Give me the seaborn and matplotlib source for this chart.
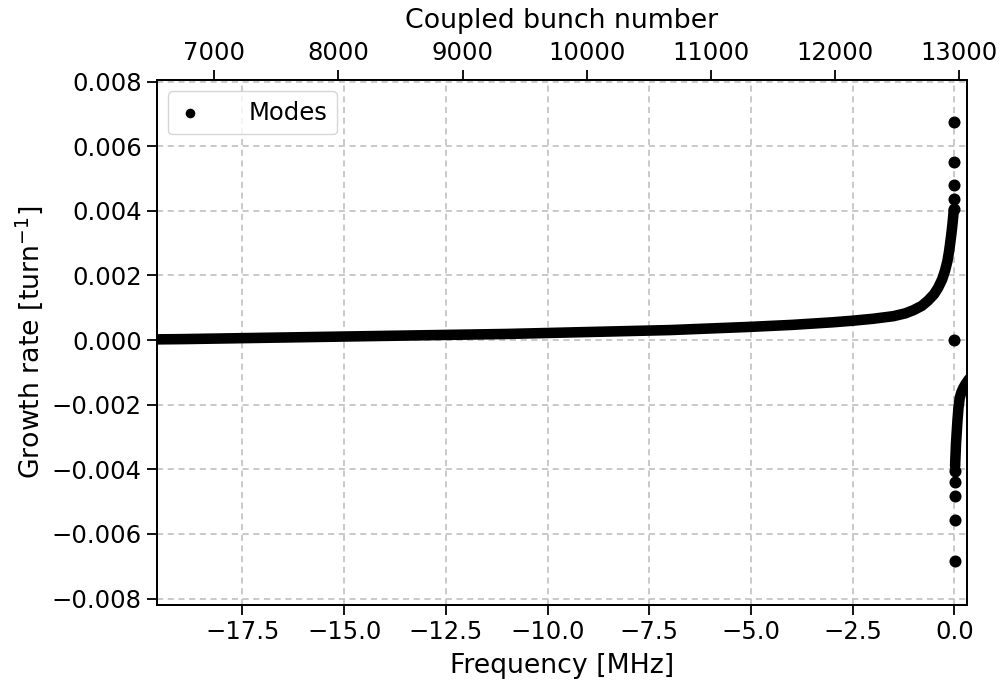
import numpy as np
import pandas as pd
import matplotlib
matplotlib.use("Agg")
import matplotlib.pyplot as plt
import seaborn as sns

# =========================
# DATA
# =========================
# left branch, dense modes below 0 MHz
f_left = [-19.8, -19.0, -18.0, -17.0, -16.0, -15.0, -14.0, -13.0, -12.0, -11.0,
          -10.0, -9.0, -8.0, -7.0, -6.0, -5.0, -4.0, -3.0, -2.5, -2.0,
          -1.5, -1.2, -1.0, -0.8, -0.65, -0.5, -0.4, -0.3, -0.23, -0.17,
          -0.13, -0.1, -0.075, -0.055, -0.04, -0.03, -0.022, -0.018]
g_left = [0.00002, 0.00003, 0.00005, 0.00007, 0.00009, 0.00011, 0.00013, 0.00015, 0.00017, 0.00019,
          0.00022, 0.00025, 0.00028, 0.00031, 0.00036, 0.00041, 0.00047, 0.00055, 0.00060, 0.00066,
          0.00074, 0.00083, 0.00093, 0.00106, 0.00122, 0.00142, 0.00162, 0.00188, 0.00215, 0.00245,
          0.00275, 0.00303, 0.00328, 0.00350, 0.00368, 0.00382, 0.00393, 0.00400]

# right branch, dense modes above 0 MHz
f_right = [0.018, 0.022, 0.03, 0.04, 0.055, 0.075, 0.1, 0.13, 0.17, 0.22, 0.28, 0.34, 0.4]
g_right = [-0.0039, -0.00375, -0.0035, -0.0032, -0.0029, -0.0025, -0.0021, -0.0018,
           -0.00162, -0.00148, -0.00135, -0.00124, -0.00115]

# isolated modes closest to 0 MHz
f_single = [-0.015, -0.012, -0.009, -0.006, -0.003, 0.0, 0.003, 0.006, 0.009, 0.012, 0.015]
g_single = [0.00405, 0.00437, 0.0048, 0.0055, 0.00676, 0.0, -0.00683, -0.00557, -0.00482,
            -0.00439, -0.00405]

bunch_lim = (6539, 13062)

left_df = pd.DataFrame({"freq": f_left, "rate": g_left})
right_df = pd.DataFrame({"freq": f_right, "rate": g_right})
single_df = pd.DataFrame({"freq": f_single, "rate": g_single})

# =========================
# STYLE
# =========================
sns.set_style("ticks")
plt.rcParams["font.family"] = ["DejaVu Sans"]
plt.rcParams["font.size"] = 17.5
for key in ("text.color", "axes.labelcolor", "xtick.color", "ytick.color", "axes.edgecolor"):
    plt.rcParams[key] = "black"

LABEL_FS = 19.3
TICK_FS = 17.5

fig, ax = plt.subplots(figsize=(10, 6.84), dpi=100)
fig.subplots_adjust(left=0.157, right=0.967, top=0.883, bottom=0.1155)

# dense parts drawn as thick round-capped line through the read points
for df in (left_df, right_df):
    sns.lineplot(data=df, x="freq", y="rate", ax=ax, color="black", lw=7.6,
                 sort=False, solid_capstyle="round", solid_joinstyle="round",
                 legend=False, zorder=3)

sns.scatterplot(data=single_df, x="freq", y="rate", ax=ax, color="black", s=75,
                edgecolor="black", linewidth=0, label="Modes", zorder=4)

ax.set_xlim(-19.6, 0.31)
ax.set_ylim(-0.0082, 0.00805)
ax.set_xticks(np.arange(-17.5, 0.1, 2.5))
ax.set_yticks(np.arange(-0.008, 0.0081, 0.002))
ax.yaxis.set_major_formatter(matplotlib.ticker.FormatStrFormatter("%.3f"))
ax.xaxis.set_major_formatter(matplotlib.ticker.FormatStrFormatter("%.1f"))
ax.set_yticklabels([t.get_text().replace("-", "\u2212") for t in ax.get_yticklabels()])
ax.set_xticklabels([t.get_text().replace("-", "\u2212") for t in ax.get_xticklabels()])

ax.grid(True, ls=(0, (4, 3)), color="#bbbbbb", lw=1.1)
ax.set_xlabel("Frequency [MHz]", fontsize=LABEL_FS, labelpad=6)
ax.set_ylabel("Growth rate [turn$^{-1}$]", fontsize=LABEL_FS, labelpad=5)

ax2 = ax.twiny()
ax2.set_xlim(*bunch_lim)
ax2.set_xticks(np.arange(7000, 13001, 1000))
ax2.set_xlabel("Coupled bunch number", fontsize=LABEL_FS, labelpad=9)

for a in (ax, ax2):
    a.tick_params(labelsize=TICK_FS, length=7, width=1.3, direction="out", pad=4)
    for sp in a.spines.values():
        sp.set_linewidth(1.4)
        sp.set_color("black")
        sp.set_visible(True)

leg = ax.legend(loc="upper left", fontsize=TICK_FS, frameon=True, handlelength=1.0,
                handletextpad=1.9, borderpad=0.4, markerscale=0.8, borderaxespad=0.45)
leg.get_frame().set_edgecolor("#cccccc")

fig.savefig("out.png", dpi=100)
